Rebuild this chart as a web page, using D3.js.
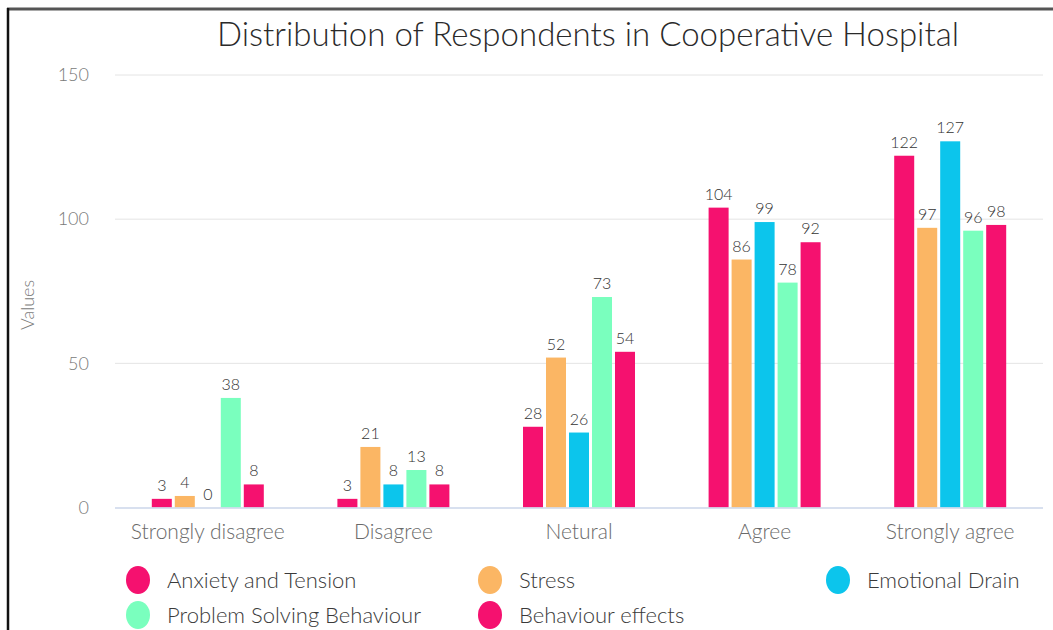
<!DOCTYPE html>
<html>
<head>
<meta charset="utf-8">
<script src="https://cdn.jsdelivr.net/npm/d3@7"></script>
<style>
  html, body { margin: 0; padding: 0; background: #fff; }
  svg { display: block; font-family: "Lato", "Open Sans", sans-serif; }
</style>
</head>
<body>
<svg id="chart" width="1053" height="630"></svg>
<script>
const categories = ["Strongly disagree", "Disagree", "Netural", "Agree", "Strongly agree"];
const seriesNames = ["Anxiety and Tension", "Stress", "Emotional Drain", "Problem Solving Behaviour", "Behaviour effects"];
const seriesColors = ["#f5116f", "#fbb664", "#0cc5ec", "#7affbe", "#f5116f"];
const anxiety = [3, 3, 28, 104, 122];
const stress = [4, 21, 52, 86, 97];
const emotional = [0, 8, 26, 99, 127];
const problem = [38, 13, 73, 78, 96];
const behaviour = [8, 8, 54, 92, 98];
const yTicks = [0, 50, 100, 150];
const seriesValues = [anxiety, stress, emotional, problem, behaviour];

const svg = d3.select("#chart");

// frame
svg.append("rect").attr("x", 0).attr("y", 0).attr("width", 1053).attr("height", 630).attr("fill", "#fff");
svg.append("line").attr("x1", 7).attr("x2", 1053).attr("y1", 9).attr("y2", 9).attr("stroke", "#555").attr("stroke-width", 3);
svg.append("line").attr("x1", 8).attr("x2", 8).attr("y1", 8).attr("y2", 630).attr("stroke", "#111").attr("stroke-width", 2.5);

const x0 = d3.scaleBand().domain(categories).range([115, 1043]).padding(0);
const x1 = d3.scaleBand().domain(seriesNames).range([0, 112]).paddingInner(0.13);
const y = d3.scaleLinear().domain([0, 150]).range([507.5, 75]);

// gridlines
svg.append("g").selectAll("line").data(yTicks.filter(t => t > 0)).join("line")
  .attr("x1", 115).attr("x2", 1043)
  .attr("y1", d => y(d)).attr("y2", d => y(d))
  .attr("stroke", "#e4e4e4").attr("stroke-width", 1);

// y axis labels
const yAxis = d3.axisLeft(y).tickValues(yTicks).tickSize(0).tickPadding(0);
const gy = svg.append("g").attr("transform", "translate(89,0)").call(yAxis);
gy.select(".domain").remove();
gy.selectAll("text").attr("fill", "#7a7a7a").style("font-size", "18px").style("font-weight", 300)
  .attr("font-family", "Lato, sans-serif");

svg.append("text").attr("transform", "translate(34,305) rotate(-90)")
  .attr("text-anchor", "middle").attr("fill", "#7a7a7a").style("font-size", "18px").style("font-weight", 300)
  .text("Values");

// bars
const groups = svg.append("g").selectAll("g").data(categories).join("g")
  .attr("transform", d => `translate(${x0(d) + x0.bandwidth() / 2 - 56},0)`);

groups.each(function (cat, ci) {
  const g = d3.select(this);
  const data = seriesNames.map((s, si) => ({ s, si, v: seriesValues[si][ci] }));
  g.selectAll("rect").data(data).join("rect")
    .attr("x", d => x1(d.s))
    .attr("width", x1.bandwidth())
    .attr("y", d => y(d.v))
    .attr("height", d => y(0) - y(d.v))
    .attr("fill", d => seriesColors[d.si]);
  g.selectAll("text").data(data).join("text")
    .attr("x", d => x1(d.s) + x1.bandwidth() / 2)
    .attr("y", d => y(d.v) - 8)
    .attr("text-anchor", "middle")
    .attr("fill", "#333")
    .style("font-size", "16px")
    .style("font-weight", 300)
    .text(d => d.v);
});

// baseline
svg.append("line").attr("x1", 115).attr("x2", 1043).attr("y1", y(0) + 0.5).attr("y2", y(0) + 0.5)
  .attr("stroke", "#cbd6ea").attr("stroke-width", 1.5);

// x axis
const xAxis = d3.axisBottom(x0).tickSize(0).tickPadding(0);
const gx = svg.append("g").attr("transform", "translate(0,539)").call(xAxis);
gx.select(".domain").remove();
gx.selectAll("text").attr("fill", "#6a6a6a").attr("dy", 0).style("font-size", "21px").style("font-weight", 300)
  .attr("font-family", "Lato, sans-serif");

// title
svg.append("text").attr("x", 588).attr("y", 46).attr("text-anchor", "middle")
  .attr("fill", "#2a2a2a").style("font-size", "33px").style("font-weight", 300)
  .text("Distribution of Respondents in Cooperative Hospital");

// legend
const legendPos = [[138, 580], [490, 580], [838, 580], [138, 615], [490, 615]];
const lg = svg.append("g").selectAll("g").data(seriesNames).join("g")
  .attr("transform", (d, i) => `translate(${legendPos[i][0]},${legendPos[i][1]})`);
lg.append("ellipse").attr("rx", 12).attr("ry", 14).attr("fill", (d, i) => seriesColors[i]);
lg.append("text").attr("x", 29).attr("y", 8).attr("fill", "#3a3a3a")
  .style("font-size", "22px").style("font-weight", 300).text(d => d);
</script>
</body>
</html>
